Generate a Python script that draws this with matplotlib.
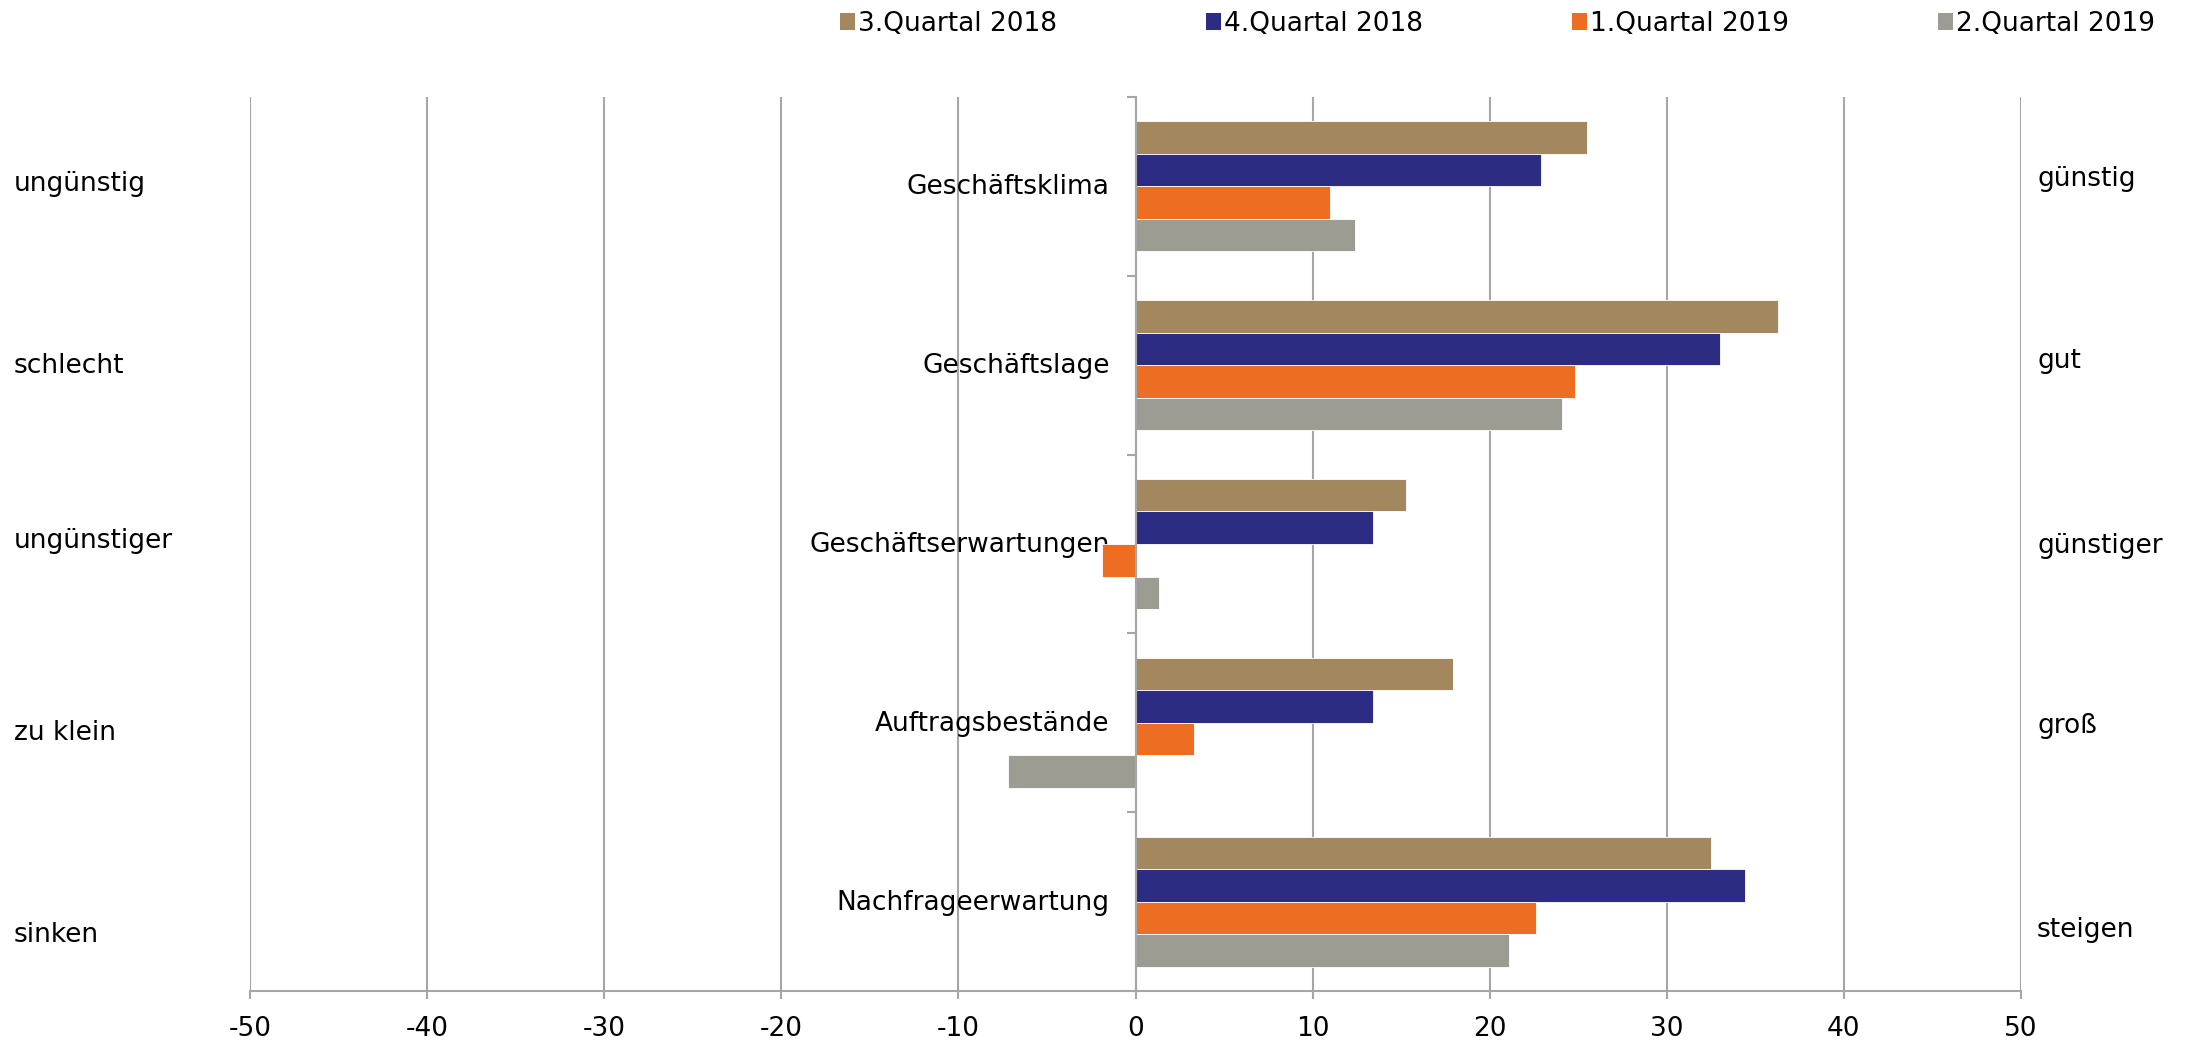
import matplotlib
matplotlib.use("Agg")
import matplotlib.pyplot as plt
from matplotlib.patches import Patch
import matplotlib.transforms as mtrans
import numpy as np

plt.rcParams["font.family"] = ["DejaVu Sans"]

categories = ["Geschäftsklima", "Geschäftslage", "Geschäftserwartungen",
              "Auftragsbestände", "Nachfrageerwartung"]
series_names = ["3.Quartal 2018", "4.Quartal 2018", "1.Quartal 2019", "2.Quartal 2019"]
q3_2018 = [25.5, 36.3, 15.3, 17.9, 32.5]
q4_2018 = [22.9, 33.0, 13.4, 13.4, 34.4]
q1_2019 = [11.0, 24.8, -1.9, 3.3, 22.6]
q2_2019 = [12.4, 24.1, 1.3, -7.2, 21.1]
left_labels = ["ungünstig", "schlecht", "ungünstiger", "zu klein", "sinken"]
right_labels = ["günstig", "gut", "günstiger", "groß", "steigen"]
xticks = [-50, -40, -30, -20, -10, 0, 10, 20, 30, 40, 50]

colors = ["#A3875E", "#2C2C82", "#ED6E23", "#9C9C92"]
grid_c = "#A6A6A6"
FS = 19

W, H = 2187, 1041
fig = plt.figure(figsize=(W / 100, H / 100), dpi=100)
ax = fig.add_axes([250 / W, 50 / H, (2021 - 250) / W, (991 - 97) / H])

series = [q3_2018, q4_2018, q1_2019, q2_2019]
y = np.arange(len(categories))
bh = 0.182
for j, vals in enumerate(series):
    ax.barh(y + (j - 1.5) * bh, vals, height=bh, color=colors[j],
            edgecolor="white", linewidth=0.6, zorder=3)

ax.set_xlim(-50, 50)
ax.set_ylim(len(categories) - 0.5, -0.5)
ax.set_xticks(xticks)
ax.set_xticklabels([str(t) for t in xticks], fontsize=FS)
ax.xaxis.grid(True, color=grid_c, linewidth=1.5, zorder=0)
ax.set_axisbelow(True)

ax.set_yticks(np.arange(-0.5, len(categories), 1.0))
ax.set_yticklabels([])
ax.spines["left"].set_position(("data", 0))
for s in ["top", "right"]:
    ax.spines[s].set_visible(False)
for s in ["left", "bottom"]:
    ax.spines[s].set_color(grid_c)
    ax.spines[s].set_linewidth(1.5)
ax.spines["left"].set_zorder(4)
ax.tick_params(axis="y", length=6.5, width=1.5, color=grid_c, direction="out")
ax.tick_params(axis="x", length=6, width=1.5, color=grid_c, pad=12, labelcolor="black")

off = mtrans.offset_copy(ax.transData, fig=fig, x=-26, y=-1, units="dots")
for i, c in enumerate(categories):
    ax.text(0, i, c, transform=off, ha="right", va="center", fontsize=FS, zorder=1)

left_y = [184, 366, 541, 733, 935]
right_y = [179, 361, 546, 726, 930]
for lab, yy in zip(left_labels, left_y):
    fig.text(14 / W, 1 - yy / H, lab, ha="left", va="center", fontsize=FS)
for lab, yy in zip(right_labels, right_y):
    fig.text(2037 / W, 1 - yy / H, lab, ha="left", va="center", fontsize=FS)

handles = [Patch(facecolor=c, edgecolor="none") for c in colors]
fig.legend(handles, series_names, loc="upper left",
           bbox_to_anchor=(840 / W, 1 - 11 / H), ncol=4, frameon=False,
           fontsize=FS, handlelength=0.57, handleheight=0.6,
           handletextpad=0.11, columnspacing=5.65, borderpad=0, borderaxespad=0)

fig.savefig("out.png", dpi=100, facecolor="white")
